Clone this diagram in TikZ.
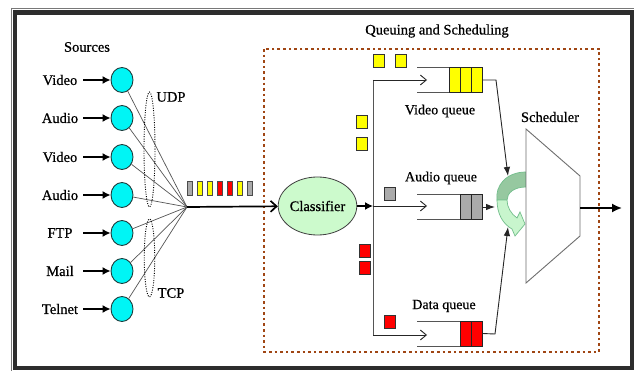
\documentclass[tikz,border=0pt]{standalone}
\usepackage{fontspec}
\setmainfont{Liberation Serif}
\newfontfamily\lblfont[FakeBold=0.6]{Liberation Serif}
\usetikzlibrary{arrows.meta,shapes.geometric}

\definecolor{framedark}{RGB}{45,45,45}
\definecolor{framethin}{RGB}{120,120,120}
\definecolor{srcfill}{RGB}{0,245,245}
\definecolor{srcline}{RGB}{30,60,60}
\definecolor{clsfill}{RGB}{204,250,204}
\definecolor{boxbrown}{RGB}{160,70,20}
\definecolor{pktgray}{RGB}{170,170,170}
\definecolor{pktyellow}{RGB}{255,255,0}
\definecolor{pktred}{RGB}{255,0,0}
\definecolor{wiregray}{RGB}{85,85,85}
\definecolor{schedline}{RGB}{110,110,110}
\definecolor{turndark}{RGB}{150,200,160}
\definecolor{turnlight}{RGB}{200,245,205}
\definecolor{turnline}{RGB}{115,190,140}

\tikzset{
  lbl/.style={inner sep=0pt, font=\lblfont\fontsize{14.5}{16}\selectfont},
  qlbl/.style={inner sep=0pt, font=\lblfont\fontsize{14}{16}\selectfont},
  src/.style={ellipse, draw=srcline, fill=srcfill, line width=0.9pt,
              minimum width=22pt, minimum height=25pt, inner sep=0pt},
  srcarrow/.style={line width=1.4pt, -{Latex[length=8pt,width=8pt]}},
  fan/.style={draw=wiregray, line width=0.7pt},
  group/.style={draw=black, line width=0.9pt, dash pattern=on 1pt off 1.4pt},
  pkt/.style={draw=black!70, line width=0.5pt, minimum width=5.3pt,
              minimum height=14pt, inner sep=0pt},
  loose/.style={draw=black!80, line width=0.6pt, minimum width=11pt,
                minimum height=13pt, inner sep=0pt},
  cell/.style={draw=black!85, line width=0.7pt, minimum width=11pt,
               minimum height=25pt, inner sep=0pt},
  qline/.style={draw=wiregray, line width=0.9pt},
  barb/.style={draw=black!85, line width=0.9pt,
               -{Straight Barb[length=6pt,width=10pt]}},
  feed/.style={draw=black!85, line width=0.9pt,
               -{Latex[length=9pt,width=6.5pt]}},
}

\begin{document}
\begin{tikzpicture}[x=1pt,y=-1pt]
\useasboundingbox (0,0) rectangle (634,371);
\fill[white] (0,0) rectangle (634,371);

% outer frame
\draw[framethin, line width=0.8pt] (11.5,8) -- (634,8);
\draw[framethin, line width=0.8pt] (11.5,8) -- (11.5,371);
\draw[framedark, line width=4.5pt] (15.2,12.7) rectangle (632,368);

% traffic sources
\node[lbl] (srchead) at (87,47) {Sources};
\foreach \i/\y/\t in {1/80/Video,2/118/Audio,3/157/Video,4/195/Audio,
                      5/233/FTP,6/271/Mail,7/309/Telnet} {
  \node[lbl] (l\i) at (60,\y) {\t};
  \coordinate (a\i) at (83,\y);
  \node[src] (s\i) at (122,\y) {};
  \draw[srcarrow] (a\i) -- (s\i);
}

% multiplexing point
\coordinate (conv) at (187,207);
\foreach \i in {1,...,7} { \draw[fan] (s\i) -- (conv); }

% UDP and TCP groups
\node[group, ellipse, minimum width=11pt, minimum height=115pt, inner sep=0pt]
  (udp) at (149.5,149.5) {};
\node[group, ellipse, minimum width=10.5pt, minimum height=78pt, inner sep=0pt]
  (tcp) at (149.5,258) {};
\node[lbl] (udplbl) at (171,97) {UDP};
\node[lbl] (tcplbl) at (171,293) {TCP};

% mixed packet stream
\foreach \x/\c [count=\k] in {190/pktgray,200/pktyellow,210/pktyellow,220/pktred,
                              230/pktred,240/pktyellow,250/pktgray} {
  \node[pkt, fill=\c] (m\k) at (\x,188) {};
}

% queuing and scheduling block
\draw[boxbrown, line width=2.6pt, dash pattern=on 2.6pt off 3pt]
  (264,49) rectangle (599,352);
\node[lbl] (qshead) at (437,31) {Queuing and Scheduling};

% classifier
\node[ellipse, draw=black!75, fill=clsfill, line width=0.8pt,
      minimum width=71pt, minimum height=58pt, inner sep=0pt, lbl]
  (cls) at (317.5,206) {Classifier};
\draw[line width=1.7pt, -{Straight Barb[length=6pt,width=11pt]}] (conv) -- (cls);

\coordinate (br) at (373,206);
\coordinate (bt) at (373,80);
\coordinate (bb) at (373,335);
\draw[line width=1.4pt, -{Latex[length=8pt,width=8pt]}] (cls) -- (br);
\draw[qline] (bt) -- (bb);
\coordinate (vin) at (427,80);
\coordinate (ain) at (427,206);
\coordinate (din) at (427,335);
\draw[barb] (bt) -- (vin);
\draw[barb] (br) -- (ain);
\draw[barb] (bb) -- (din);

% packets on their way
\node[loose, fill=pktyellow] (p1) at (378.5,61) {};
\node[loose, fill=pktyellow] (p2) at (400.5,61) {};
\node[loose, fill=pktyellow] (p3) at (361.5,122) {};
\node[loose, fill=pktyellow] (p4) at (361.5,144) {};
\node[loose, fill=pktgray]   (p5) at (390,194) {};
\node[loose, fill=pktred]    (p6) at (364.5,250.5) {};
\node[loose, fill=pktred]    (p7) at (364.5,268) {};
\node[loose, fill=pktred]    (p8) at (390,321.5) {};

% video queue
\draw[qline] (417,67.5) -- (482,67.5);
\draw[qline] (417,92.5) -- (482,92.5);
\node[cell, fill=pktyellow] (v1) at (454.5,80) {};
\node[cell, fill=pktyellow] (v2) at (465.5,80) {};
\node[cell, fill=pktyellow] (v3) at (476.5,80) {};
\node[qlbl] (vlbl) at (440,111) {Video queue};

% audio queue
\draw[qline] (417,194.5) -- (482,194.5);
\draw[qline] (417,219.5) -- (482,219.5);
\node[cell, fill=pktgray] (au1) at (465.5,207) {};
\node[cell, fill=pktgray] (au2) at (476.5,207) {};
\node[qlbl] (albl) at (441,178) {Audio queue};

% data queue
\draw[qline] (417,321) -- (482,321);
\draw[qline] (417,346) -- (482,346);
\node[cell, fill=pktred] (d1) at (465.5,333.5) {};
\node[cell, fill=pktred] (d2) at (476.5,333.5) {};
\node[qlbl] (dlbl) at (444,306) {Data queue};

% round-robin turn of the scheduler
\filldraw[fill=turndark, draw=turnline, line width=0.7pt]
  (526,172) .. controls (506,172) and (495,186) .. (497,200)
  -- (507,200) .. controls (507,193) and (514,187) .. (526,187) -- cycle;
\filldraw[fill=turnlight, draw=turnline, line width=0.7pt]
  (497,200) .. controls (497,214) and (503,224) .. (512,229)
  -- (515,236) -- (525,224) -- (520,212) -- (517,218)
  .. controls (511,214) and (507,207) .. (507,200) -- cycle;

% scheduler
\node[lbl] (schlbl) at (550,117) {Scheduler};
\draw[draw=schedline, fill=white, line width=0.9pt]
  (526,129) coordinate (sA) -- (580,176) coordinate (sB)
  -- (580,236) coordinate (sC) -- (526,283) coordinate (sD) -- cycle;

% queues feeding the scheduler
\coordinate (vk) at (496,80);
\coordinate (vt) at (508,176);
\coordinate (at) at (495,207);
\coordinate (dk) at (495,334);
\coordinate (dt) at (508,227);
\draw[feed] (v3.east) -- (vk) -- (vt);
\draw[feed] (au2.east) -- (at);
\draw[feed] (d2.east) -- (dk) -- (dt);

% scheduler output
\coordinate (sout) at (580,208);
\coordinate (oend) at (622,208);
\draw[line width=1.7pt, -{Latex[length=10pt,width=9pt]}] (sout) -- (oend);
\end{tikzpicture}
\end{document}
